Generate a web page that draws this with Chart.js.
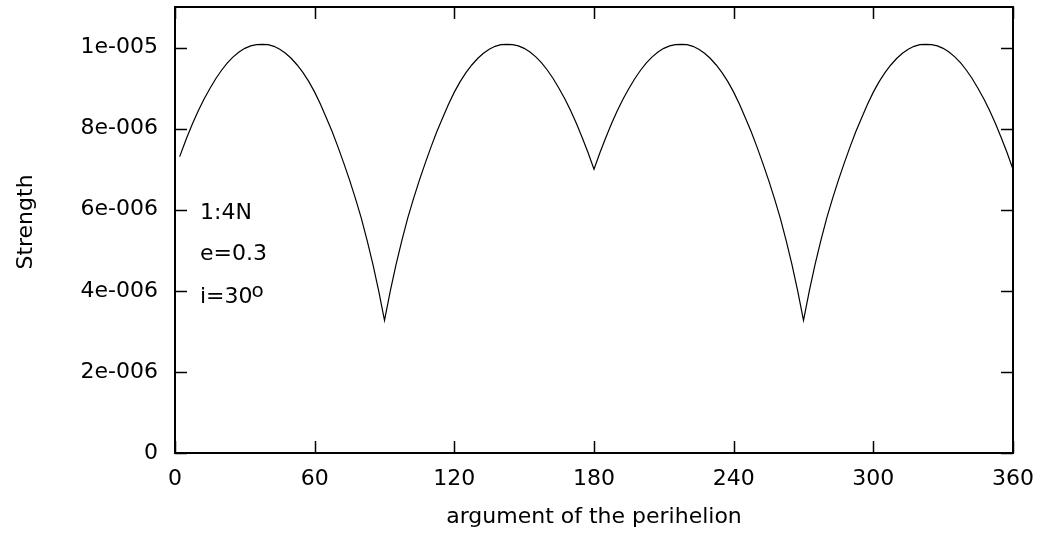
<!DOCTYPE html>
<html>
<head>
<meta charset="utf-8">
<script src="https://cdn.jsdelivr.net/npm/chart.js@4.4.1/dist/chart.umd.min.js"></script>
<style>
  html, body { margin: 0; padding: 0; background: #fff; }
</style>
</head>
<body>
<canvas id="chart" width="1043" height="541"></canvas>
<script>
// --- DATA ---
const angles = [
  2, 5, 7.5, 10, 12.5, 15, 17.5, 20, 22.5, 25, 27.5, 30,
  32.5, 35, 37.5, 40, 42.5, 45, 47.5, 50, 52.5, 55, 57.5, 60,
  62.5, 65, 67.5, 70, 72.5, 75, 77.5, 80, 82.5, 85, 87.5, 90,
  92.5, 95, 97.5, 100, 102.5, 105, 107.5, 110, 112.5, 115, 117.5, 120,
  122.5, 125, 127.5, 130, 132.5, 135, 137.5, 140, 142.5, 145, 147.5, 150,
  152.5, 155, 157.5, 160, 162.5, 165, 167.5, 170, 172.5, 175, 177.5, 180,
  182.5, 185, 187.5, 190, 192.5, 195, 197.5, 200, 202.5, 205, 207.5, 210,
  212.5, 215, 217.5, 220, 222.5, 225, 227.5, 230, 232.5, 235, 237.5, 240,
  242.5, 245, 247.5, 250, 252.5, 255, 257.5, 260, 262.5, 265, 267.5, 270,
  272.5, 275, 277.5, 280, 282.5, 285, 287.5, 290, 292.5, 295, 297.5, 300,
  302.5, 305, 307.5, 310, 312.5, 315, 317.5, 320, 322.5, 325, 327.5, 330,
  332.5, 335, 337.5, 340, 342.5, 345, 347.5, 350, 352.5, 355, 357.5, 360
];
// strength in units of 1e-6
const strength = [
  7.31, 7.77, 8.12, 8.44, 8.73, 8.99, 9.23, 9.44, 9.62, 9.77, 9.89, 9.98,
  10.04, 10.07, 10.08, 10.07, 10.03, 9.96, 9.86, 9.73, 9.57, 9.38, 9.16, 8.90,
  8.60, 8.27, 7.93, 7.55, 7.15, 6.73, 6.28, 5.80, 5.25, 4.66, 4.00, 3.27,
  4.00, 4.66, 5.25, 5.80, 6.28, 6.73, 7.15, 7.55, 7.93, 8.27, 8.60, 8.90,
  9.16, 9.38, 9.57, 9.73, 9.86, 9.96, 10.03, 10.07, 10.08, 10.07, 10.04, 9.98,
  9.89, 9.77, 9.62, 9.44, 9.23, 8.99, 8.73, 8.44, 8.12, 7.77, 7.40, 7.00,
  7.40, 7.77, 8.12, 8.44, 8.73, 8.99, 9.23, 9.44, 9.62, 9.77, 9.89, 9.98,
  10.04, 10.07, 10.08, 10.07, 10.03, 9.96, 9.86, 9.73, 9.57, 9.38, 9.16, 8.90,
  8.60, 8.27, 7.93, 7.55, 7.15, 6.73, 6.28, 5.80, 5.25, 4.66, 4.00, 3.27,
  4.00, 4.66, 5.25, 5.80, 6.28, 6.73, 7.15, 7.55, 7.93, 8.27, 8.60, 8.90,
  9.16, 9.38, 9.57, 9.73, 9.86, 9.96, 10.03, 10.07, 10.08, 10.07, 10.04, 9.98,
  9.89, 9.77, 9.62, 9.44, 9.23, 8.99, 8.73, 8.44, 8.12, 7.77, 7.40, 7.00
];
const xTicks = [0, 60, 120, 180, 240, 300, 360];
const yTicks = [0, 2e-6, 4e-6, 6e-6, 8e-6, 1e-5];
const yTickLabels = ['0', '2e-006', '4e-006', '6e-006', '8e-006', '1e-005'];
const noteLines = ['1:4N', 'e=0.3', 'i=30'];

const FONT = 'DejaVu Sans';
const FONT_SIZE = 22;

// --- FRAME, INWARD TICKS, NOTES ---
const framePlugin = {
  id: 'frame',
  afterDraw(chart) {
    const { ctx, chartArea: a, scales: { x, y } } = chart;
    const tl = 12;
    ctx.save();
    ctx.strokeStyle = '#000';
    ctx.lineWidth = 1.5;
    ctx.beginPath();
    yTicks.forEach(v => {
      const py = Math.round(y.getPixelForValue(v)) + 0.5;
      ctx.moveTo(a.left, py); ctx.lineTo(a.left + tl, py);
      ctx.moveTo(a.right, py); ctx.lineTo(a.right - tl, py);
    });
    xTicks.forEach(v => {
      const px = Math.round(x.getPixelForValue(v)) + 0.5;
      ctx.moveTo(px, a.bottom); ctx.lineTo(px, a.bottom - tl);
      ctx.moveTo(px, a.top); ctx.lineTo(px, a.top + tl);
    });
    ctx.stroke();
    ctx.lineWidth = 2;
    ctx.strokeRect(a.left, a.top, a.right - a.left, a.bottom - a.top);

    // y axis title
    ctx.fillStyle = '#000';
    ctx.font = FONT_SIZE + 'px "' + FONT + '"';
    ctx.save();
    ctx.translate(26, 222);
    ctx.rotate(-Math.PI / 2);
    ctx.textAlign = 'center';
    ctx.textBaseline = 'middle';
    ctx.fillText('Strength', 0, 0);
    ctx.restore();

    // notes
    ctx.textAlign = 'left';
    ctx.textBaseline = 'alphabetic';
    const baselines = [219, 260, 302.5];
    noteLines.forEach((t, i) => ctx.fillText(t, a.left + 25, baselines[i]));
    const w = ctx.measureText(noteLines[2]).width;
    ctx.font = '20px "' + FONT + '"';
    ctx.fillText('o', a.left + 24 + w, 297);
    ctx.restore();
  }
};

const ctx = document.getElementById('chart').getContext('2d');
new Chart(ctx, {
  type: 'line',
  data: {
    datasets: [{
      data: angles.map((a, i) => ({ x: a, y: strength[i] * 1e-6 })),
      borderColor: '#000',
      borderWidth: 1.2,
      pointRadius: 0,
      tension: 0,
      fill: false
    }]
  },
  options: {
    responsive: false,
    animation: false,
    devicePixelRatio: 1,
    layout: { padding: { top: 7, right: 30, left: 0, bottom: 0 } },
    plugins: { legend: { display: false }, tooltip: { enabled: false } },
    scales: {
      x: {
        type: 'linear', min: 0, max: 360,
        grid: { display: false }, border: { display: false },
        afterBuildTicks: s => { s.ticks = xTicks.map(v => ({ value: v })); },
        afterFit: s => { s.height = 88; s.paddingLeft = 0; s.paddingRight = 0; },
        ticks: {
          color: '#000', font: { family: FONT, size: FONT_SIZE },
          padding: 5, maxRotation: 0, autoSkip: false
        },
        title: {
          display: true, text: 'argument of the perihelion', color: '#000',
          font: { family: FONT, size: FONT_SIZE }, padding: { top: 0, bottom: 11 }
        }
      },
      y: {
        type: 'linear', min: 0, max: 1.1e-5,
        grid: { display: false }, border: { display: false },
        afterBuildTicks: s => { s.ticks = yTicks.map(v => ({ value: v })); },
        afterFit: s => { s.width = 175; s.paddingTop = 0; s.paddingBottom = 0; },
        ticks: {
          color: '#000', font: { family: FONT, size: FONT_SIZE }, padding: 9,
          callback: v => { const i = yTicks.indexOf(v); return i < 0 ? '' : yTickLabels[i]; }
        }
      }
    }
  },
  plugins: [framePlugin]
});
</script>
</body>
</html>
